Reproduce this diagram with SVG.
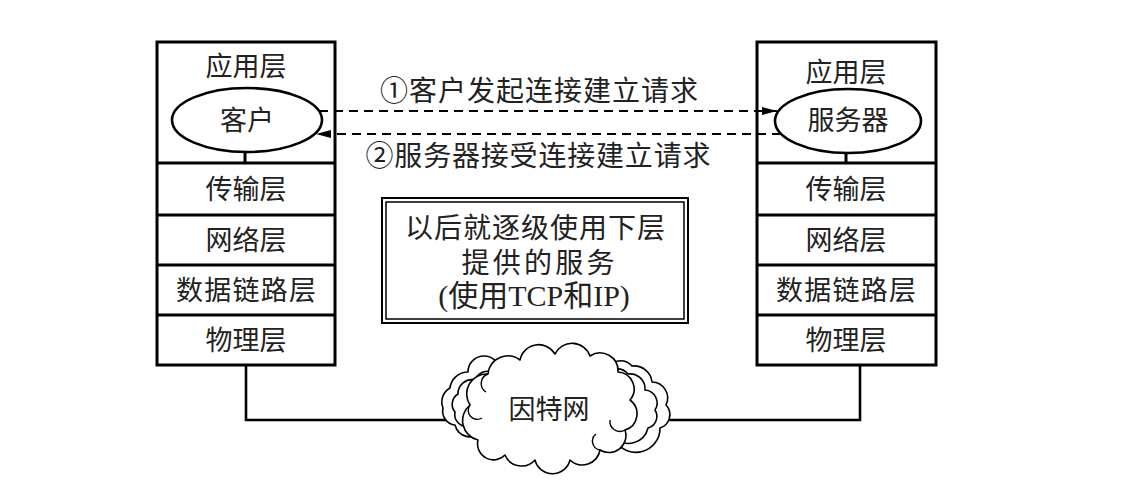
<svg xmlns="http://www.w3.org/2000/svg" width="1122" height="502" viewBox="0 0 1122 502">
  <style>
    .box { fill: #fff; stroke: #000; stroke-width: 3; }
    .div { stroke: #000; stroke-width: 3; }
    .ell { fill: #fff; stroke: #000; stroke-width: 2.6; }
    .txt { font-family: "Liberation Serif", "Noto Sans CJK SC", serif; font-size: 27px; fill: #222; text-anchor: middle; dominant-baseline: central; }
    .lbl { font-family: "Liberation Serif", "Noto Sans CJK SC", serif; font-size: 28px; fill: #222; text-anchor: middle; dominant-baseline: central; }
    .dash { fill: none; stroke: #000; stroke-width: 2.2; stroke-dasharray: 9 6; }
    .wire { fill: none; stroke: #000; stroke-width: 2.6; }
    .cloud { fill: #fff; stroke: #000; stroke-width: 1.6; stroke-linejoin: round; }
    .curl { fill: none; stroke: #000; stroke-width: 1.4; }
    .frame { fill: none; stroke: #000; }
  </style>
  <defs>
    <marker id="arrow" markerUnits="userSpaceOnUse" markerWidth="16" markerHeight="10" refX="15" refY="5" orient="auto">
      <path d="M0,1 L15,5 L0,9 Z" fill="#000"/>
    </marker>
  </defs>

  <rect width="1122" height="502" fill="#fff"/>

  <!-- client host protocol stack -->
  <g id="client-stack">
    <rect class="box" x="157" y="42" width="178" height="323"/>
    <line class="div" x1="157" y1="163" x2="335" y2="163"/>
    <line class="div" x1="157" y1="215" x2="335" y2="215"/>
    <line class="div" x1="157" y1="265" x2="335" y2="265"/>
    <line class="div" x1="157" y1="315" x2="335" y2="315"/>
    <text class="txt" x="246" y="67">应用层</text>
    <text class="txt" x="246" y="190">传输层</text>
    <text class="txt" x="246" y="241">网络层</text>
    <text class="txt" x="246" y="291" textLength="140">数据链路层</text>
    <text class="txt" x="246" y="341">物理层</text>
  </g>
  <g id="client">
    <line class="div" x1="245" y1="150" x2="245" y2="163"/>
    <ellipse class="ell" cx="247" cy="120" rx="75" ry="32"/>
    <text class="txt" x="247" y="121">客户</text>
  </g>

  <!-- server host protocol stack -->
  <g id="server-stack">
    <rect class="box" x="757" y="42" width="179" height="323"/>
    <line class="div" x1="757" y1="163" x2="936" y2="163"/>
    <line class="div" x1="757" y1="215" x2="936" y2="215"/>
    <line class="div" x1="757" y1="265" x2="936" y2="265"/>
    <line class="div" x1="757" y1="315" x2="936" y2="315"/>
    <text class="txt" x="846" y="73">应用层</text>
    <text class="txt" x="846" y="190">传输层</text>
    <text class="txt" x="846" y="241">网络层</text>
    <text class="txt" x="846" y="291" textLength="140">数据链路层</text>
    <text class="txt" x="846" y="341">物理层</text>
  </g>
  <g id="server">
    <line class="div" x1="846" y1="152" x2="846" y2="163"/>
    <ellipse class="ell" cx="848" cy="121" rx="73" ry="32"/>
    <text class="txt" x="848" y="121">服务器</text>
  </g>

  <!-- note box with double frame -->
  <g id="note">
    <rect x="382" y="198" width="306" height="125" fill="#fff"/>
    <rect class="frame" x="382" y="198" width="306" height="125" stroke-width="2"/>
    <rect class="frame" x="386" y="202" width="298" height="117" stroke-width="1.5"/>
    <text class="lbl" x="535" y="228" textLength="260">以后就逐级使用下层</text>
    <text class="lbl" x="538" y="263" textLength="153">提供的服务</text>
    <text class="lbl" x="534" y="295" style="font-size:30px">(使用TCP和IP)</text>
  </g>

  <!-- connectors -->
  <g id="connectors">
    <path class="dash" d="M319,111 H777" marker-end="url(#arrow)"/>
    <path class="dash" d="M781,134 H316" marker-end="url(#arrow)"/>
    <path class="wire" d="M246,365 V420 H450"/>
    <path class="wire" d="M860,365 V420 H660"/>
    <text class="lbl" x="539" y="91" textLength="318">①客户发起连接建立请求</text>
    <text class="lbl" x="538" y="156" textLength="345">②服务器接受连接建立请求</text>
  </g>

  <!-- internet cloud -->
  <g id="internet">
    <!-- rear puffs, left -->
    <path class="cloud" d="M500,372 A16 16 0 0 0 468,372 A18 18 0 0 0 450,388 A16 16 0 0 0 443,408 A14 14 0 0 0 455,425 A16 16 0 0 0 482,432 Z"/>
    <path class="cloud" d="M500,378 A14 14 0 0 0 475,380 A14 14 0 0 0 458,394 A12 12 0 0 0 455,412 A12 12 0 0 0 470,426 A14 14 0 0 0 484,430 Z"/>
    <!-- rear puffs, right -->
    <path class="cloud" d="M605,372 A16 16 0 0 1 632,366 A18 18 0 0 1 652,382 A16 16 0 0 1 666,405 A14 14 0 0 1 660,428 A24 24 0 0 1 615,440 Z"/>
    <path class="cloud" d="M605,376 A14 14 0 0 1 628,374 A15 15 0 0 1 645,390 A13 13 0 0 1 655,410 A12 12 0 0 1 648,428 A20 20 0 0 1 615,438 Z"/>
    <!-- front cloud -->
    <path class="cloud" d="M478,440 A20 20 0 0 1 470,405 A20 20 0 0 1 488,374 A20 20 0 0 1 520,360 A19 19 0 0 1 555,354 A19 19 0 0 1 590,356 A18 18 0 0 1 618,372 A17 17 0 0 1 630,400 A17 17 0 0 1 625,430 A17 17 0 0 1 600,450 A18 18 0 0 1 570,460 A18 18 0 0 1 535,460 A18 18 0 0 1 505,455 A16 16 0 0 1 478,440 Z"/>
    <!-- inner curls -->
    <path class="curl" d="M488,374 A10 10 0 0 0 486,392"/>
    <path class="curl" d="M470,405 A9 9 0 0 0 482,418"/>
    <path class="curl" d="M625,430 A10 10 0 0 1 610,420"/>
    <path class="curl" d="M600,450 A9 9 0 0 1 596,434"/>
    <text class="txt" x="549" y="410">因特网</text>
  </g>
</svg>
